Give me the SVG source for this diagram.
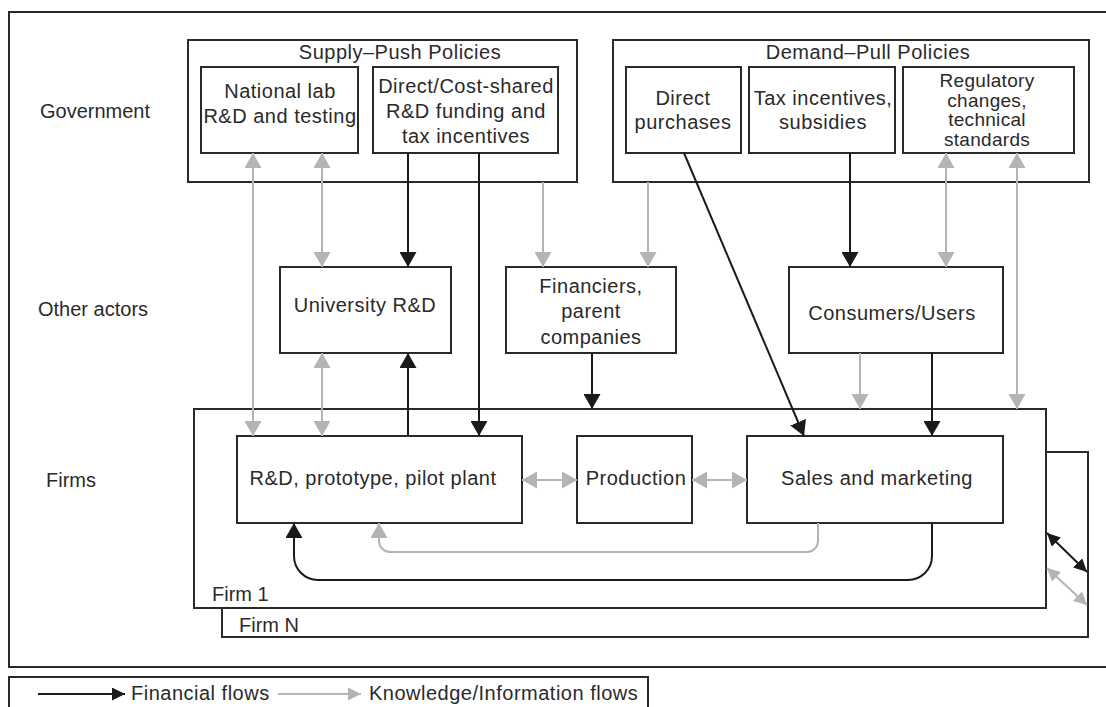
<svg xmlns="http://www.w3.org/2000/svg" width="1106" height="707" viewBox="0 0 1106 707">
<style>
  text { font-family: "Liberation Sans", Arial, sans-serif; font-size: 20px; fill: #2a2a2a; }
  .c { text-anchor: middle; }
  .s { letter-spacing: 0.5px; }
  .reg { font-size: 19px; letter-spacing: 0.3px; }
  .box { fill: #fff; stroke: #2a2a2a; stroke-width: 2; }
  .frame { fill: none; stroke: #2a2a2a; stroke-width: 2; }
  .fin { fill: none; stroke: #1a1a1a; stroke-width: 2; }
  .kn { fill: none; stroke: #b2b4b8; stroke-width: 2; }
</style>
<defs>
  <marker id="ab" viewBox="0 0 15 17" refX="15" refY="8.5" markerWidth="15" markerHeight="17" markerUnits="userSpaceOnUse" orient="auto-start-reverse">
    <path d="M0,0 L15,8.5 L0,17 z" fill="#1a1a1a"/>
  </marker>
  <marker id="ag" viewBox="0 0 15 17" refX="15" refY="8.5" markerWidth="15" markerHeight="17" markerUnits="userSpaceOnUse" orient="auto-start-reverse">
    <path d="M0,0 L15,8.5 L0,17 z" fill="#b2b4b8"/>
  </marker>
  <marker id="abs" viewBox="0 0 13 13" refX="13" refY="6.5" markerWidth="13" markerHeight="13" markerUnits="userSpaceOnUse" orient="auto-start-reverse">
    <path d="M0,0 L13,6.5 L0,13 z" fill="#1a1a1a"/>
  </marker>
  <marker id="ags" viewBox="0 0 13 13" refX="13" refY="6.5" markerWidth="13" markerHeight="13" markerUnits="userSpaceOnUse" orient="auto-start-reverse">
    <path d="M0,0 L13,6.5 L0,13 z" fill="#b2b4b8"/>
  </marker>
</defs>

<g id="outer-frame">
  <rect class="frame" x="9" y="12" width="1110" height="655"/>
</g>

<g id="row-labels">
  <text x="40" y="118">Government</text>
  <text x="38" y="316">Other actors</text>
  <text x="46" y="487">Firms</text>
</g>

<g id="supply-push">
  <rect class="box" x="188" y="40" width="389" height="142"/>
  <text class="c s" x="400" y="59">Supply–Push Policies</text>
</g>
<g id="national-lab">
  <rect class="box" x="201" y="67" width="157" height="86"/>
  <text class="c s" x="280" y="98">National lab</text>
  <text class="c s" x="280" y="123">R&amp;D and testing</text>
</g>
<g id="direct-cost-shared">
  <rect class="box" x="373" y="67" width="185" height="86"/>
  <text class="c s" x="466" y="93">Direct/Cost-shared</text>
  <text class="c s" x="466" y="118">R&amp;D funding and</text>
  <text class="c s" x="466" y="143">tax incentives</text>
</g>

<g id="demand-pull">
  <rect class="box" x="613" y="40" width="476" height="142"/>
  <text class="c s" x="868" y="59">Demand–Pull Policies</text>
</g>
<g id="direct-purchases">
  <rect class="box" x="626" y="67" width="115" height="86"/>
  <text class="c s" x="683" y="105">Direct</text>
  <text class="c s" x="683" y="129">purchases</text>
</g>
<g id="tax-incentives">
  <rect class="box" x="749" y="67" width="146" height="86"/>
  <text class="c s" x="823" y="105">Tax incentives,</text>
  <text class="c s" x="823" y="129">subsidies</text>
</g>
<g id="regulatory">
  <rect class="box" x="903" y="67" width="171" height="86"/>
  <text class="c reg" x="987" y="87">Regulatory</text>
  <text class="c reg" x="987" y="106.5">changes,</text>
  <text class="c reg" x="987" y="126">technical</text>
  <text class="c reg" x="987" y="145.5">standards</text>
</g>

<g id="university-rd">
  <rect class="box" x="280" y="267" width="171" height="86"/>
  <text class="c s" x="365" y="312">University R&amp;D</text>
</g>
<g id="financiers">
  <rect class="box" x="506" y="267" width="170" height="86"/>
  <text class="c s" x="591" y="293">Financiers,</text>
  <text class="c s" x="591" y="318">parent</text>
  <text class="c s" x="591" y="344">companies</text>
</g>
<g id="consumers">
  <rect class="box" x="789" y="267" width="214" height="86"/>
  <text class="c s" x="892" y="320">Consumers/Users</text>
</g>

<g id="firm-n">
  <rect class="box" x="222" y="452" width="866" height="185"/>
  <text x="239" y="632">Firm N</text>
</g>
<g id="firm-1">
  <rect class="box" x="194" y="409" width="852" height="199"/>
  <text x="212" y="601">Firm 1</text>
</g>
<g id="rd-prototype">
  <rect class="box" x="237" y="436" width="285" height="87"/>
  <text class="c s" x="373" y="485">R&amp;D, prototype, pilot plant</text>
</g>
<g id="production">
  <rect class="box" x="577" y="436" width="115" height="87"/>
  <text class="c s" x="636" y="485">Production</text>
</g>
<g id="sales">
  <rect class="box" x="747" y="436" width="256" height="87"/>
  <text class="c s" x="877" y="485">Sales and marketing</text>
</g>

<g id="connectors">
  <line class="kn" x1="253" y1="153" x2="253" y2="436" marker-start="url(#ag)" marker-end="url(#ag)"/>
  <line class="kn" x1="322" y1="153" x2="322" y2="267" marker-start="url(#ag)" marker-end="url(#ag)"/>
  <line class="fin" x1="408" y1="153" x2="408" y2="267" marker-end="url(#ab)"/>
  <line class="fin" x1="479" y1="153" x2="479" y2="436" marker-end="url(#ab)"/>
  <line class="kn" x1="543" y1="182" x2="543" y2="267" marker-end="url(#ag)"/>
  <line class="kn" x1="648" y1="182" x2="648" y2="267" marker-end="url(#ag)"/>
  <line class="fin" x1="684" y1="153" x2="804" y2="436" marker-end="url(#ab)"/>
  <line class="fin" x1="850" y1="153" x2="850" y2="267" marker-end="url(#ab)"/>
  <line class="kn" x1="946" y1="153" x2="946" y2="267" marker-start="url(#ag)" marker-end="url(#ag)"/>
  <line class="kn" x1="1017" y1="153" x2="1017" y2="409" marker-start="url(#ag)" marker-end="url(#ag)"/>
  <line class="kn" x1="322" y1="353" x2="322" y2="436" marker-start="url(#ag)" marker-end="url(#ag)"/>
  <line class="fin" x1="408" y1="436" x2="408" y2="353" marker-end="url(#ab)"/>
  <line class="fin" x1="592" y1="353" x2="592" y2="409" marker-end="url(#ab)"/>
  <line class="kn" x1="860" y1="353" x2="860" y2="409" marker-end="url(#ag)"/>
  <line class="fin" x1="932" y1="353" x2="932" y2="436" marker-end="url(#ab)"/>
  <line class="kn" x1="522" y1="480" x2="577" y2="480" marker-start="url(#ag)" marker-end="url(#ag)"/>
  <line class="kn" x1="692" y1="480" x2="747" y2="480" marker-start="url(#ag)" marker-end="url(#ag)"/>
  <path class="kn" d="M818,523 V541 A11,11 0 0 1 807,552 H390 A11,11 0 0 1 379,541 V523" marker-end="url(#ag)"/>
  <path class="fin" d="M932,523 V556 A24,24 0 0 1 908,580 H318 A24,24 0 0 1 294,556 V523" marker-end="url(#ab)"/>
  <line class="fin" x1="1047" y1="533" x2="1087" y2="572" marker-start="url(#abs)" marker-end="url(#abs)"/>
  <line class="kn" x1="1047" y1="568" x2="1087" y2="605" marker-start="url(#ags)" marker-end="url(#ags)"/>
</g>

<g id="legend">
  <rect class="frame" x="9" y="677" width="639" height="40"/>
  <line class="fin" x1="38" y1="694" x2="125" y2="694" marker-end="url(#abs)"/>
  <text class="s" x="131" y="700">Financial flows</text>
  <line class="kn" x1="278" y1="694" x2="361" y2="694" marker-end="url(#ags)"/>
  <text class="s" x="369" y="700">Knowledge/Information flows</text>
</g>
</svg>
